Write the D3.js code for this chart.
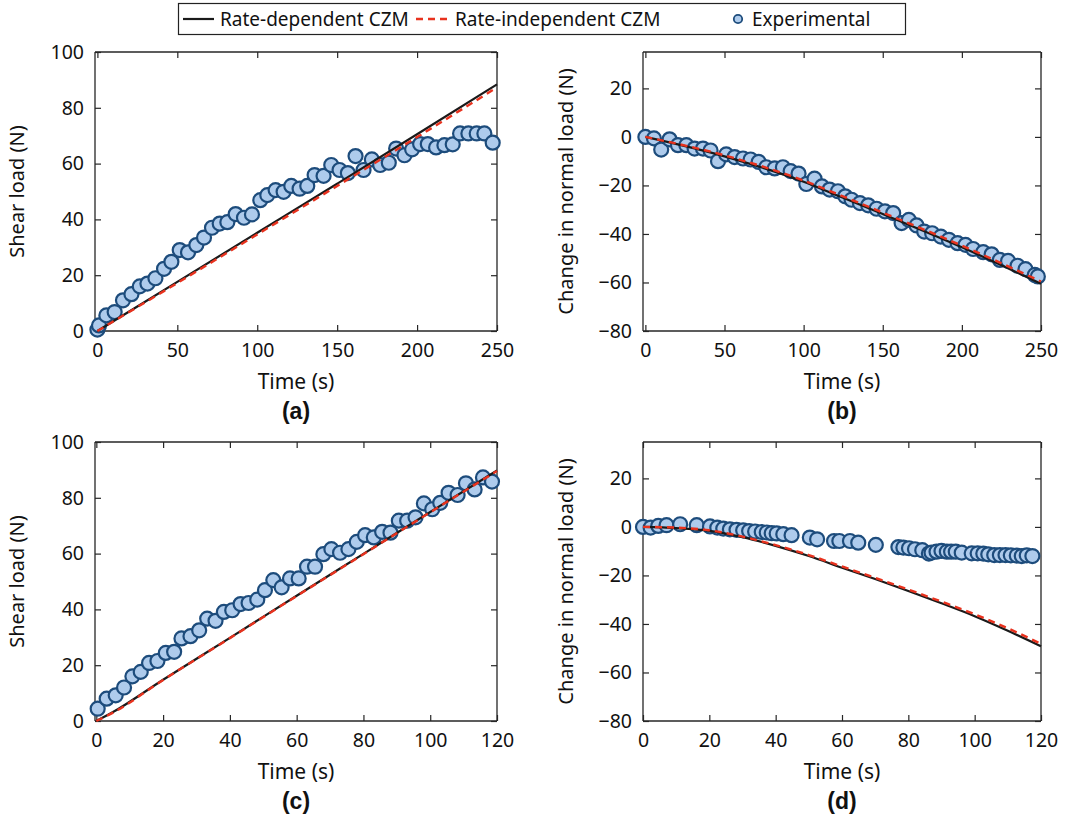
<!DOCTYPE html>
<html>
<head>
<meta charset="utf-8">
<script src="https://cdn.jsdelivr.net/npm/d3@7"></script>
<style>
  html, body { margin: 0; padding: 0; background: #fff; }
  svg { display: block; }
  text { font-family: "Noto Sans", "Open Sans", sans-serif; fill: #111; }
</style>
</head>
<body>
<svg id="chart" width="1068" height="819"></svg>
<script>
// ---------- data ----------
const legendLabels = ["Rate-dependent CZM", "Rate-independent CZM", "Experimental"];
const panelLetters = ["(a)", "(b)", "(c)", "(d)"];
const xLabel = "Time (s)";
const yLabelShear = "Shear load (N)";
const yLabelNormal = "Change in normal load (N)";

const xTicks250 = [0, 50, 100, 150, 200, 250];
const xTicks120 = [0, 20, 40, 60, 80, 100, 120];
const yTicksShear = [0, 20, 40, 60, 80, 100];
const yTicksNormal = [-80, -60, -40, -20, 0, 20];

// (a) shear load, long test
const expTimeA = [0, 1, 5.6, 10.8, 16, 21.3, 26.5, 31.3, 36.3, 41.7, 46.3, 51.5, 56.7, 61.9, 66.7, 71.7, 76.5, 81.3, 86.5, 91.7, 96.7, 101.9, 106.3, 111.5, 116.5, 121.3, 126.5, 131.3, 135.9, 141.5, 146.3, 151.5, 156.7, 161.5, 166.5, 171.7, 176.9, 182.3, 186.9, 192.1, 196.9, 201.9, 206.7, 211.9, 217.1, 222.3, 226.9, 232.1, 237.3, 242.1, 247.3];
const expShearA = [0.5, 2, 5.6, 6.8, 11, 13.2, 16, 17, 18.9, 22.3, 24.8, 29, 28.2, 30.8, 33.5, 37, 38.5, 39, 41.9, 40.6, 41.8, 46.9, 48.7, 50.5, 49.9, 52, 51, 52, 55.9, 55.6, 59.5, 57.7, 56.6, 62.7, 57.7, 61.5, 59.5, 60.3, 65.4, 63, 65.1, 67, 67, 65.8, 66.6, 66.9, 70.8, 70.8, 70.8, 70.8, 67.5];
const modelTimeA = [0, 50, 100, 150, 200, 250];
const rateDepA = [0, 17.6, 35.2, 52.8, 70.5, 88.4];
const rateIndepA = [0, 17.2, 34.6, 52.0, 69.5, 87.3];

// (b) change in normal load, long test
const expTimeB = [0, 5.4, 10, 15.3, 20.6, 25.9, 31.1, 36.4, 41.2, 45.9, 51.1, 56.4, 61.7, 66.5, 71.6, 76.4, 81.7, 86.9, 91.8, 96.8, 101.7, 106.9, 111.6, 116.4, 121.7, 126.3, 130.3, 135.6, 140.8, 146.1, 151.4, 156.6, 161.9, 166.5, 171.4, 176.2, 181.2, 186.7, 191.8, 197.3, 202.3, 207.1, 213.5, 218.8, 224, 229.2, 235.2, 240.2, 246.1, 248];
const expNormalB = [0, -0.6, -5.2, -1.0, -3.4, -3.4, -4.8, -4.8, -5.6, -10, -7.2, -8.3, -8.9, -9.3, -10.3, -12.5, -13, -12.5, -14.1, -15.1, -19.4, -17.2, -20.4, -21.7, -22.4, -24.5, -25.9, -27.3, -28.2, -29.6, -30.7, -31.4, -35.5, -34.2, -36.5, -39, -39.7, -41.1, -42.4, -43.8, -44.5, -46.2, -47.5, -48.4, -50.7, -51.1, -53.1, -54.5, -56.9, -57.5];
const modelTimeB = [0, 50, 100, 120, 150, 200, 250];
const rateDepB = [0, -8.0, -18.5, -23.8, -31.8, -45.5, -60.5];
const rateIndepB = [0, -7.6, -18.0, -23.2, -31.2, -44.8, -59.6];

// (c) shear load, short test
const expTimeC = [0.4, 3.1, 5.8, 8.3, 10.8, 13.3, 15.8, 18.3, 20.8, 23.3, 25.5, 28.2, 30.8, 33.2, 35.7, 38.2, 40.7, 43.2, 45.6, 48.2, 50.5, 53, 55.5, 58, 60.6, 63.1, 65.5, 68, 70.4, 73, 75.5, 78, 80.5, 83.1, 85.6, 88.1, 90.6, 93.1, 95.6, 98.1, 100.6, 103, 105.5, 108.2, 110.7, 113.3, 115.8, 118.5];
const expShearC = [4.4, 8, 9.2, 12, 16, 17.6, 20.8, 21.5, 24.4, 24.8, 29.6, 30.4, 32.5, 36.7, 35.9, 39.1, 39.7, 41.9, 42.3, 43.5, 46.9, 50.5, 47.9, 51.1, 51.1, 55.3, 55.3, 59.8, 61.6, 60.3, 61.6, 64.2, 66.6, 65.8, 67.8, 67.5, 71.8, 71.8, 73, 78, 75.9, 78.2, 81.8, 81, 85.2, 83, 87.3, 85.8];
const modelTimeC = [0, 5, 20, 40, 60, 80, 100, 120];
const rateDepC = [0, 3.2, 14.8, 29.8, 44.9, 59.9, 74.9, 89.8];
const rateIndepC = [0, 3.0, 14.7, 29.7, 44.8, 59.8, 74.8, 89.6];

// (d) change in normal load, short test
const expTimeD = [0, 2.3, 4.6, 7.1, 11.2, 16.2, 20.2, 22.4, 24.2, 26.2, 28.2, 30.2, 32, 33.8, 35.8, 37.3, 38.8, 40.3, 42.3, 44.8, 50.3, 52.5, 57.6, 59.2, 62.4, 64.9, 70.2, 77, 78.5, 80.2, 82, 84.2, 86.2, 87, 88.5, 90, 91.6, 92.9, 94.3, 96.1, 99.1, 100.9, 102.6, 104.1, 105.9, 107.6, 109.3, 110.9, 112.7, 114.2, 115.7, 117.4];
const expNormalD = [0, -0.3, 0.4, 0.7, 1.1, 0.7, 0.2, -0.3, -0.7, -1, -1.2, -1.4, -1.7, -1.9, -2.1, -2.3, -2.6, -2.7, -3, -3.4, -4.4, -5.1, -5.8, -5.8, -5.8, -6.5, -7.4, -8.3, -8.5, -8.8, -9.2, -9.6, -11, -10.6, -10.2, -9.9, -10.2, -10.2, -10.2, -10.6, -10.9, -10.9, -11, -11.3, -11.6, -11.6, -11.6, -11.7, -11.8, -12, -11.7, -12];
const modelTimeD = [0, 10, 20, 30, 40, 50, 60, 70, 80, 90, 100, 110, 120];
const rateDepD = [0, -0.5, -1.6, -4.2, -7.8, -12, -16.8, -21.5, -26.4, -31.5, -36.8, -42.8, -49.2];
const rateIndepD = [0, -0.3, -1.4, -4.0, -7.5, -11.6, -16.3, -21.0, -25.8, -30.8, -36.0, -41.8, -48.2];

// ---------- style ----------
const C_BLACK = "#1a1a1a";
const C_RED = "#e8321e";
const C_FILL = "#aecbec";
const C_EDGE = "#1d4c7c";
const AXIS = "#262626";

const svg = d3.select("#chart");

const panels = [
  { rect: [95, 52, 497, 331], xd: [-1.5, 250], yd: [0, 100], xt: xTicks250, yt: yTicksShear, yl: yLabelShear,
    et: expTimeA, ev: expShearA, mt: modelTimeA, m1: rateDepA, m2: rateIndepA, letter: panelLetters[0], ylx: 24 },
  { rect: [643, 52, 1041, 331], xd: [-1.5, 250], yd: [-80, 35], xt: xTicks250, yt: yTicksNormal, yl: yLabelNormal,
    et: expTimeB, ev: expNormalB, mt: modelTimeB, m1: rateDepB, m2: rateIndepB, letter: panelLetters[1], ylx: 573 },
  { rect: [95, 442, 497, 721], xd: [-0.4, 120], yd: [0, 100], xt: xTicks120, yt: yTicksShear, yl: yLabelShear,
    et: expTimeC, ev: expShearC, mt: modelTimeC, m1: rateDepC, m2: rateIndepC, letter: panelLetters[2], ylx: 24 },
  { rect: [643, 442, 1041, 721], xd: [0, 120], yd: [-80, 35], xt: xTicks120, yt: yTicksNormal, yl: yLabelNormal,
    et: expTimeD, ev: expNormalD, mt: modelTimeD, m1: rateDepD, m2: rateIndepD, letter: panelLetters[3], ylx: 573 }
];

panels.forEach(p => {
  const [x0, y0, x1, y1] = p.rect;
  const x = d3.scaleLinear().domain(p.xd).range([x0, x1]);
  const y = d3.scaleLinear().domain(p.yd).range([y1, y0]);
  const g = svg.append("g");
  const tl = 6;

  // axes with inward ticks (box on)
  const bottom = g.append("g").attr("transform", `translate(0,${y1})`)
    .call(d3.axisBottom(x).tickValues(p.xt).tickSize(-tl).tickPadding(12).tickFormat(d3.format("d")));
  const top = g.append("g").attr("transform", `translate(0,${y0})`)
    .call(d3.axisTop(x).tickValues(p.xt).tickSize(-tl).tickFormat(""));
  const left = g.append("g").attr("transform", `translate(${x0},0)`)
    .call(d3.axisLeft(y).tickValues(p.yt).tickSize(-tl).tickPadding(11).tickFormat(d3.format("d")));
  const right = g.append("g").attr("transform", `translate(${x1},0)`)
    .call(d3.axisRight(y).tickValues(p.yt).tickSize(-tl).tickFormat(""));
  [bottom, top, left, right].forEach(a => {
    a.select(".domain").attr("stroke", AXIS).attr("stroke-width", 1.3)
      .attr("d", a === bottom || a === top ? `M${x0},0H${x1}` : `M0,${y0}V${y1}`);
    a.selectAll(".tick line").attr("stroke", AXIS).attr("stroke-width", 1.2);
    a.selectAll(".tick text").attr("font-size", 19.5).attr("fill", "#111")
      .style("font-family", '"Noto Sans", sans-serif');
  });

  // experimental markers
  const pts = p.et.map((t, i) => [t, p.ev[i]]);
  g.append("g").selectAll("circle").data(pts).join("circle")
    .attr("cx", d => x(d[0])).attr("cy", d => y(d[1])).attr("r", 7)
    .attr("fill", C_FILL).attr("stroke", C_EDGE).attr("stroke-width", 2.2);

  // model lines
  const line = d3.line().x(d => x(d[0])).y(d => y(d[1])).curve(d3.curveMonotoneX);
  g.append("path").datum(p.mt.map((t, i) => [t, p.m1[i]]))
    .attr("d", line).attr("fill", "none").attr("stroke", C_BLACK).attr("stroke-width", 2.2);
  g.append("path").datum(p.mt.map((t, i) => [t, p.m2[i]]))
    .attr("d", line).attr("fill", "none").attr("stroke", C_RED).attr("stroke-width", 2.4)
    .attr("stroke-dasharray", "7,5");

  // labels
  const cx = (x0 + x1) / 2;
  g.append("text").attr("x", cx).attr("y", y1 + 58).attr("text-anchor", "middle")
    .attr("font-size", 21).text(xLabel);
  g.append("text").attr("x", cx).attr("y", y1 + 88).attr("text-anchor", "middle")
    .attr("font-size", 23).attr("font-weight", "bold")
    .style("font-family", '"Liberation Sans", Arial, sans-serif').text(p.letter);
  const cy = (y0 + y1) / 2;
  g.append("text").attr("transform", `translate(${p.ylx},${cy}) rotate(-90)`)
    .attr("text-anchor", "middle").attr("font-size", 20).text(p.yl);
});

// ---------- legend ----------
const lg = svg.append("g");
lg.append("rect").attr("x", 178.5).attr("y", 3.5).attr("width", 727).attr("height", 31)
  .attr("fill", "#fff").attr("stroke", "#222").attr("stroke-width", 1.2);
const ly = 19;
lg.append("line").attr("x1", 183).attr("x2", 214).attr("y1", ly).attr("y2", ly)
  .attr("stroke", C_BLACK).attr("stroke-width", 2.2);
lg.append("text").attr("x", 220).attr("y", ly + 6.5).attr("font-size", 19).text(legendLabels[0]);
lg.append("line").attr("x1", 416).attr("x2", 449).attr("y1", ly).attr("y2", ly)
  .attr("stroke", C_RED).attr("stroke-width", 2.4).attr("stroke-dasharray", "7,5");
lg.append("text").attr("x", 455).attr("y", ly + 6.5).attr("font-size", 19).text(legendLabels[1]);
lg.append("circle").attr("cx", 738).attr("cy", ly).attr("r", 4.2)
  .attr("fill", C_FILL).attr("stroke", C_EDGE).attr("stroke-width", 1.8);
lg.append("text").attr("x", 752).attr("y", ly + 6.5).attr("font-size", 19).text(legendLabels[2]);
</script>
</body>
</html>
